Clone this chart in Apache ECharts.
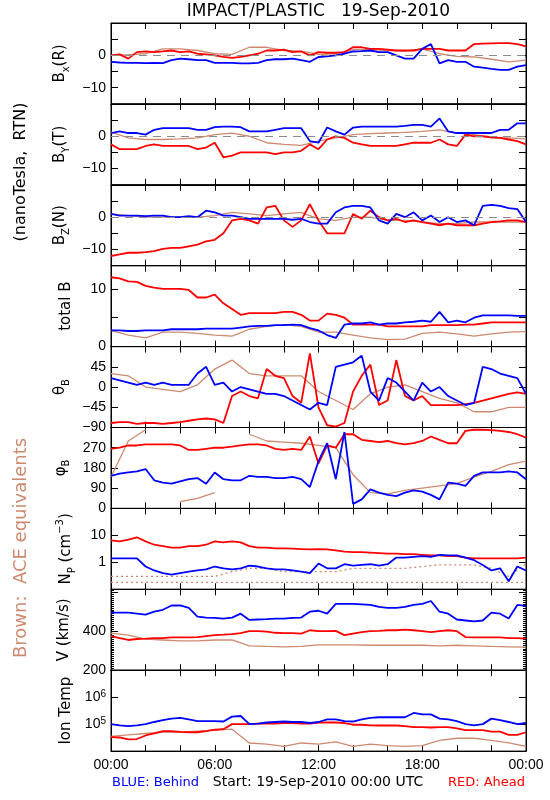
<!DOCTYPE html>
<html><head><meta charset="utf-8">
<script src="https://cdn.jsdelivr.net/npm/echarts@6/dist/echarts.min.js"></script>
<style>html,body{margin:0;padding:0;background:#fff}#c{width:550px;height:800px}</style>
</head><body><div id="c"></div><script>
// ---------- time bases (hours since 19-Sep-2010 00:00 UTC) ----------
const hoursHalf = [0,0.5,1,1.5,2,2.5,3,3.5,4,4.5,5,5.5,6,6.5,7,7.5,8,8.5,9,9.5,10,10.5,11,11.5,12,12.5,13,13.5,14,14.5,15,15.5,16,16.5,17,17.5,18,18.5,19,19.5,20,20.5,21,21.5,22,22.5,23,23.5,24];
const hoursFull = [0,1,2,3,4,5,6,7,8,9,10,11,12,13,14,15,16,17,18,19,20,21,22,23,24];
const timeLabels = ['00:00','06:00','12:00','18:00','00:00'];

// ---------- Bx (R) ----------
const bxBehind = [-2,-2.2,-2.3,-2.3,-2.4,-2.3,-2.4,-1.5,-1,-1.2,-1.5,-1.5,-2.3,-2.3,-2.3,-2.5,-2.5,-2.3,-1.5,-1.2,-1.2,-1,-1.5,-2,-0.5,-0.3,0,0.5,1.2,1.3,1.5,1,1,0,-1,-1,2,3.5,-2.5,-1.5,-2,-2,-3.5,-3.8,-4.2,-4.5,-4.5,-3.5,-3];
const bxAhead  = [0,0.3,-1,1,1.2,1,1.2,1.5,1,1.2,0.5,0.3,0,-0.5,-0.8,-0.5,0,0.5,1.5,1.5,1.8,1,1.2,0,1,0.8,0.8,1,2.5,2.5,2,2,1.8,1.5,1.5,1.5,2,2,2,1.5,1.5,1.5,3.5,3.6,3.7,3.8,3.8,3.5,2.8];
const bxAce    = [0,0.2,0.5,2,2,1.5,0.5,0.3,2.5,2.5,1.5,1.3,0.3,0.5,1.8,1.8,1.5,1.3,2,0.5,-0.3,-0.5,-1.2,-2,-1.5];
// ---------- By (T) ----------
const byBehind = [1,1.5,1,1,0.5,2,2.5,2.5,2.5,2.5,2,2,2.8,3,3,2.8,1.5,1.5,1.5,2,2.5,2.5,2.5,-1.5,-2,2.7,1.5,0.5,2.7,3,3,3,3,3,3.2,3.5,3.5,3,5.5,1.5,1,1,1,1,1,2,2,4,4];
const byAhead  = [-2.5,-4,-4,-4,-3,-2.5,-3,-3,-3,-3,-4,-3.5,-2,-6.5,-6,-5,-5,-5,-5,-5.5,-5,-5,-4.5,-2.5,-4,-1,0,-0.5,-2,-2.5,-3,-3,-3,-3,-2.5,-2,-2,-2,-1,-2.5,-3,0.5,0,0,-0.3,-0.5,-1,-1.5,-2.5];
const byAce    = [1.3,-0.5,-1,-1,-0.8,-0.5,0.5,1,0,-2,-2.5,-2.8,-1.5,-0.5,0.5,0.8,1,1.2,1.5,2,1,0.5,-0.5,-0.5,-0.8];
// ---------- Bz (N) ----------
const bzBehind = [1,0.5,0.5,0.5,0.3,0.5,0.5,0,0,0.3,0,2,1.5,0.5,0.5,0,-0.5,-0.5,-0.5,-0.5,-0.5,-0.8,-0.5,-1.5,-2,-2,1.5,3,3.5,3.5,3,-1,-2,1,0,1.5,-1,0.5,-1.5,0,-1.5,-1,-2.5,3.5,3.8,3.5,2.8,2.5,-1.5];
const bzAhead  = [-12,-11.5,-11,-11,-10.8,-10.5,-9.8,-9.5,-9.5,-9,-8.5,-7.5,-7,-5,-1,-0.5,-1,-2,3,3.5,-1,-3,-1,4,-1,-5,-5,-5,1,-0.5,2,0,-1,-0.5,-1.5,-1,-1.5,-2,-2.5,-2,-2.5,-2.5,-2.5,-2,-1.5,-1.3,-1,-1,-1.5];
const bzAce    = [1,0.5,0,0,0,0,0.5,1.5,1,0.5,1,1.5,-0.5,-1,0,0,-1,-1,-1.5,-2,-2,-1.5,-1.5,-1.5,-1.5];
// ---------- total B ----------
const btBehind = [2.8,2.8,2.7,2.7,2.8,2.8,2.8,3,3,3,3,3.1,3.1,3.1,3.1,3.3,3.5,3.6,3.6,3.7,3.7,3.8,3.7,3.2,2.8,2,1.5,3.8,4,4,4.2,3.8,4,4,4.2,4.3,4.5,4.3,6,4.2,4.5,4.2,5,5.4,5.4,5.4,5.4,5.3,5.3];
const btAhead  = [12,11.8,11.3,11.2,10.5,10.2,10,10,10,9.8,8.5,8.5,9,7.5,6.5,5.5,5.8,5.8,5.8,5.8,6,6,5.5,4.5,4.5,5.7,5.5,5,3.8,3.8,3.8,3.8,3.5,3.5,3.5,3.5,3.5,3.7,3.7,3.7,3.7,3.8,3.8,4,4.2,4.2,4.2,4.2,4.2];
const btAce    = [2.8,2,1.5,2.5,2.5,2.3,2,1.8,3,3.5,3.8,3.5,2.5,2.5,2,1.5,1.2,1.3,2.3,2.5,2.2,1.8,2.2,2.5,2.6];
// ---------- theta_B (deg) ----------
const thBehind = [20,15,10,5,10,5,10,5,5,5,30,45,5,10,-10,0,-5,-10,-15,-15,-20,-30,-40,-50,-35,-40,45,50,55,70,-10,-30,20,10,-10,-30,10,-10,0,-20,-30,-40,-35,45,40,30,25,20,-15];
const thAhead  = [-80,-78,-78,-82,-80,-80,-82,-80,-78,-75,-72,-70,-72,-80,-20,-10,-20,-25,40,25,20,-20,-35,75,-45,-85,-88,-80,-10,25,50,-40,-30,60,-20,-30,-20,-40,-40,-40,-40,-38,-35,-30,-25,-20,-15,-12,-15];
const thAce    = [30,25,0,-5,-10,5,40,60,30,25,25,25,-10,-30,-50,-15,0,5,-10,-25,-35,-55,-55,-45,-45];
// ---------- phi_B (deg); null = wrap-around gap ----------
const phBehind = [145,155,160,165,175,125,115,110,120,130,135,110,160,130,125,125,145,140,140,135,135,140,130,95,210,290,130,340,20,40,85,70,60,55,70,80,75,60,40,115,110,100,145,160,160,160,165,160,130];
const phAhead  = [265,270,280,280,285,285,285,285,280,260,260,265,270,270,275,280,285,285,280,265,260,265,260,320,200,280,270,330,330,305,300,295,300,290,285,290,300,320,305,290,290,345,350,350,348,345,340,330,315];
const phAce    = [140,300,350,null,30,45,70,null,330,300,295,290,280,270,150,70,65,80,90,100,110,140,165,195,210];
// ---------- proton density (cm^-3) ----------
const npBehind = [1.4,1.4,1.4,1.4,0.7,0.5,0.4,0.35,0.4,0.45,0.5,0.55,0.7,0.6,0.55,0.6,0.75,0.7,0.6,0.55,0.55,0.5,0.45,0.4,0.9,0.6,0.6,0.85,0.75,0.8,0.85,0.75,0.85,1.5,1.5,1.6,1.7,1.6,1.9,1.8,1.8,1.5,1.2,0.8,0.5,0.6,0.2,0.7,0.5];
const npAhead  = [6.5,6,7,8.5,6,4.5,4,3.5,3.5,4,4,4.5,6,5.5,6,5.5,4,3.5,3.5,3.3,3.3,3.2,3.1,3,3.1,3,2.8,2.5,2.4,2.4,2.3,2.2,2.1,2.1,2,2,1.9,1.8,1.8,1.7,1.7,1.5,1.4,1.4,1.4,1.4,1.4,1.4,1.5];
const npAceLow  = [0.18,0.18,0.18,0.18,0.18,0.18,0.18,0.18,0.18,0.18,0.18,0.18,0.18,0.18,0.18,0.18,0.18,0.18,0.18,0.18,0.18,0.18,0.18,0.18,0.18];
const npAceHigh = [0.3,0.3,0.3,0.3,0.3,0.3,0.3,0.45,0.6,0.6,0.45,0.45,0.45,0.45,0.6,0.6,0.6,0.6,0.7,0.8,0.8,0.8,0.6,0.3,0.9];
// ---------- bulk speed (km/s) ----------
const vBehind = [495,495,495,490,485,500,510,532,532,520,475,470,468,465,470,490,458,460,462,465,465,468,470,500,505,490,540,540,540,538,535,525,520,520,525,535,540,555,500,490,460,455,450,455,495,490,465,535,530];
const vAhead  = [375,365,355,360,362,365,365,368,368,368,370,375,380,382,385,390,400,400,398,392,390,390,388,405,400,400,402,380,388,395,400,402,405,405,408,405,400,395,400,405,400,370,368,368,368,368,365,365,362];
const vAce    = [390,380,360,355,350,350,355,355,325,322,320,322,330,330,330,328,328,328,328,325,328,325,322,320,318];
// ---------- ion temperature (K) ----------
const tBehind = [1e5,9e4,8.5e4,9e4,1e5,1.2e5,1.4e5,1.6e5,1.7e5,1.5e5,1.3e5,1.3e5,1.3e5,1.25e5,1.9e5,2e5,1e5,1.05e5,1.15e5,1.2e5,1.25e5,1.2e5,1.2e5,1.1e5,1.2e5,1.5e5,1.5e5,1.3e5,1.25e5,1.5e5,1.7e5,1.8e5,1.8e5,1.8e5,1.8e5,2.6e5,2.3e5,2.3e5,1.6e5,1.5e5,1.3e5,1e5,9e4,1e5,1.6e5,1.4e5,1.2e5,1e5,1.1e5];
const tAhead  = [3.3e4,3.2e4,2.7e4,2.8e4,3.8e4,4.5e4,5.5e4,5.5e4,5.2e4,5e4,5e4,5.5e4,6.2e4,6.5e4,1e5,1e5,1e5,1.05e5,1.05e5,1.05e5,1.1e5,1.1e5,1.05e5,1.05e5,1.15e5,1.15e5,1.15e5,1.1e5,9.5e4,9.5e4,9e4,8.9e4,8.9e4,8.9e4,8.5e4,7.7e4,7.7e4,7.5e4,7.7e4,7.7e4,7e4,6e4,6e4,6e4,5.3e4,5.3e4,4e4,4e4,5e4];
const tAce    = [3.5e4,4e4,4.5e4,5e4,5e4,5.5e4,6e4,6.5e4,2e4,1.8e4,1.5e4,2e4,1.8e4,2.2e4,1.5e4,1.8e4,1.6e4,1.5e4,1.6e4,2.5e4,3e4,3e4,2.5e4,2e4,1.5e4];

// ---------- tick labels ----------
const bLabels = [0,-10];
const btLabels = [0,10];
const thLabels = [45,0,-45,-90];
const phLabels = [0,90,180,270];
const npLabels = [1,10];
const vLabels = [200,400];
const tLabels = [1e5,1e6];

const C_BLUE='#0000ff', C_RED='#ff0000', C_ACE='#cd8a70';
const TF='Liberation Sans', NF='DejaVu Sans';
const SUP = {'5':'\u2075','6':'\u2076'};

function pair(t,v){return t.map((x,i)=>[x,v[i]]);}
function fmtNum(v){return v<0?'\u2212'+Math.abs(v):String(v);}

const panels = [
  {name:'{a|B}{s|x}{a|(R)}', plain:'Bx(R)', type:'value', min:-15,max:10,interval:5, labels:bLabels, zero:true, b:bxBehind, r:bxAhead, ace:[bxAce]},
  {name:'{a|B}{s|Y}{a|(T)}', plain:'By(T)', type:'value', min:-15,max:10,interval:5, labels:bLabels, zero:true, b:byBehind, r:byAhead, ace:[byAce]},
  {name:'{a|B}{s|Z}{a|(N)}', plain:'Bz(N)', type:'value', min:-15,max:10,interval:5, labels:bLabels, zero:true, b:bzBehind, r:bzAhead, ace:[bzAce]},
  {name:'{a|total B}', plain:'total B', type:'value', min:0,max:14,interval:5, labels:btLabels, b:btBehind, r:btAhead, ace:[btAce]},
  {name:'{a|\u03b8}{s|B}', plain:'\u03b8B', type:'value', min:-90,max:90,interval:45, labels:thLabels, b:thBehind, r:thAhead, ace:[thAce]},
  {name:'{a|\u03c6}{s|B}', plain:'\u03c6B', type:'value', min:0,max:360,interval:90, labels:phLabels, b:phBehind, r:phAhead, ace:[phAce]},
  {name:'{a|N}{s|P}{a| (cm}{p|\u22123}{a|)}', plain:'NP (cm\u207b\u00b3)', type:'log', min:0.1,max:100, labels:npLabels, b:npBehind, r:npAhead, ace:[npAceLow,npAceHigh], aceDash:true},
  {name:'{a|V (km/s)}', plain:'V (km/s)', type:'value', min:200,max:615,interval:200, labels:vLabels, minor:20, b:vBehind, r:vAhead, ace:[vAce]},
  {name:'{a|Ion Temp}', plain:'Ion Temp', type:'log', min:1e4,max:1e7, labels:tLabels, sup:true, b:tBehind, r:tAhead, ace:[tAce]}
];

function nameRich(){return {
  a:{fontFamily:NF,fontSize:15,color:'#000',lineHeight:22,verticalAlign:'middle'},
  s:{fontFamily:NF,fontSize:10,color:'#000',lineHeight:10,verticalAlign:'bottom'},
  p:{fontFamily:NF,fontSize:10,color:'#000',lineHeight:10,verticalAlign:'top'}
};}
function labRich(){return {
  n:{fontFamily:TF,fontSize:14,color:'#000'},
  e:{fontFamily:TF,fontSize:10,color:'#000',verticalAlign:'top',padding:[0,0,6,0]}
};}

const TOP=23, H=80.9, LEFT=111, W=415;
function axLine(){return {show:true,onZero:false,lineStyle:{color:'#000',width:1}};}

function buildOption(f){
  const grid=[], xAxis=[], yAxis=[], series=[];
  panels.forEach((p,i)=>{
    grid.push({left:LEFT,top:TOP+i*H,width:W,height:H,show:true,borderColor:'#000',borderWidth:1});
    for(const pos of ['bottom','top']){
      const lab = (pos==='bottom' && i===panels.length-1) ?
        {show:true,margin:7,fontFamily:TF,fontSize:14,color:'#000',formatter:v=> (Math.round(v)%6===0 ? timeLabels[Math.round(v)/6] : '')} : {show:false};
      xAxis.push({gridIndex:i,type:'value',position:pos,min:0,max:24,interval:2,axisLine:axLine(),splitLine:{show:false},
        axisTick:{show:true,inside:true,length:6,lineStyle:{color:'#000'}},axisLabel:lab});
    }
    const match = v => p.labels.some(l => p.type==='log' ? Math.abs(Math.log10(v)-Math.log10(l))<1e-6 : Math.abs(v-l)<1e-6);
    for(const pos of ['left','right']){
      const ax = {gridIndex:i,type:p.type,position:pos,min:p.min,max:p.max,axisLine:axLine(),splitLine:{show:false},
        axisTick:{show:true,inside:true,length:7,lineStyle:{color:'#000'}}};
      if(p.type==='value') ax.interval=p.interval; else ax.logBase=10;
      if(p.minor && f.minor) ax.minorTick={show:true,splitNumber:p.minor,length:3,lineStyle:{color:'#000'}};
      if(pos==='left'){
        ax.axisLabel={show:true,margin:5,fontFamily:TF,fontSize:14,color:'#000',
          formatter:v=>{ if(!match(v)) return ''; if(p.sup){const e=String(Math.round(Math.log10(v)));
              return f.richLab ? '{n|10}{e|'+e+'}' : '10'+SUP[e];}
            return fmtNum(Math.round(v*1000)/1000);}};
        if(f.richLab) ax.axisLabel.rich=labRich();
        if(f.custom && p.type==='value') ax.axisLabel.customValues=p.labels;
        ax.nameLocation='middle'; ax.nameGap=34; ax.nameRotate=90;
        if(f.richName){ ax.name=p.name; ax.nameTextStyle={rich:nameRich()}; }
        else { ax.name=p.plain; ax.nameTextStyle={fontFamily:NF,fontSize:15,color:'#000'}; }
      } else ax.axisLabel={show:false};
      yAxis.push(ax);
    }
    const xi=2*i, yi=2*i;
    p.ace.forEach((arr,k)=>{
      const s={type:'line',xAxisIndex:xi,yAxisIndex:yi,data:pair(hoursFull,arr),showSymbol:false,silent:true,connectNulls:false,
        lineStyle:{color:C_ACE,width:1.3,type:p.aceDash?[2,3]:'solid'}};
      if(p.zero && k===0 && f.markLine){
        s.markLine={silent:true,symbol:'none',label:{show:false},lineStyle:{color:'#8c8c8c',type:[8,6],width:1},data:[{yAxis:0}]};
      }
      series.push(s);
    });
    series.push({type:'line',xAxisIndex:xi,yAxisIndex:yi,data:pair(hoursHalf,p.r),showSymbol:false,silent:true,lineStyle:{color:C_RED,width:1.8}});
    series.push({type:'line',xAxisIndex:xi,yAxisIndex:yi,data:pair(hoursHalf,p.b),showSymbol:false,silent:true,lineStyle:{color:C_BLUE,width:1.8}});
  });
  const graphic = [
    {type:'text',x:318.5,y:12,style:{text:'IMPACT/PLASTIC   19-Sep-2010',font:'17px "DejaVu Sans"',fill:'#000',align:'center',verticalAlign:'middle'}},
    {type:'text',x:21,y:172,rotation:Math.PI/2,style:{text:'(nanoTesla,  RTN)',font:'16px "DejaVu Sans"',fill:'#000',align:'center',verticalAlign:'middle'}},
    {type:'text',x:21,y:548,rotation:Math.PI/2,style:{text:'Brown:  ACE equivalents',font:'18px "DejaVu Sans"',fill:C_ACE,align:'center',verticalAlign:'middle'}},
    {type:'text',x:112,y:783,style:{text:'BLUE: Behind',font:'13px "DejaVu Sans"',fill:C_BLUE,align:'left',verticalAlign:'middle'}},
    {type:'text',x:318,y:782,style:{text:'Start: 19-Sep-2010 00:00 UTC',font:'14px "DejaVu Sans"',fill:'#000',align:'center',verticalAlign:'middle'}},
    {type:'text',x:525,y:783,style:{text:'RED: Ahead',font:'13px "DejaVu Sans"',fill:C_RED,align:'right',verticalAlign:'middle'}}
  ];
  return {animation:false,grid,xAxis,yAxis,series,graphic};
}

// count the drawn major tick marks (short black lines of 6-7 px)
function countTicks(ch){
  let n=0;
  ch.getZr().storage.getDisplayList(true).forEach(el=>{
    if(el.type!=='line' || el.ignore || el.invisible) return;
    const s=el.shape; const len=Math.hypot(s.x2-s.x1,s.y2-s.y1);
    if(len>5.5 && len<7.5) n++;
  });
  return n;
}

const variants = [
  {richLab:true, richName:true, markLine:true, custom:true, minor:true},
  {richLab:false,richName:true, markLine:true, custom:false,minor:true},
  {richLab:false,richName:true, markLine:false,custom:false,minor:false},
  {richLab:false,richName:false,markLine:false,custom:false,minor:false}
];
let chart=null, best=null, bestN=-1;
for(const f of variants){
  if(chart) chart.dispose();
  chart = echarts.init(document.getElementById('c'),null,{renderer:'canvas'});
  try { chart.setOption(buildOption(f)); } catch(e) { continue; }
  const n = countTicks(chart);
  if(n>bestN){bestN=n;best=f;}
  if(n>=100) break;
}
if(bestN<100 && best){ chart.dispose(); chart=echarts.init(document.getElementById('c'),null,{renderer:'canvas'}); chart.setOption(buildOption(best)); }
</script></body></html>
